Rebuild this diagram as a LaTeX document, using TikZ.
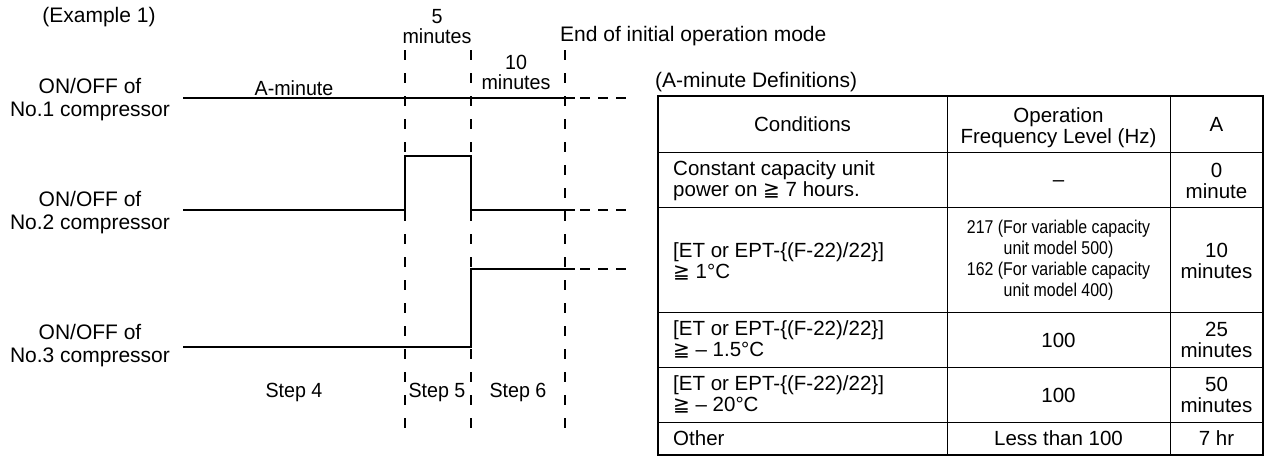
\documentclass[tikz,border=0pt]{standalone}
\usepackage{fontspec}
\setmainfont{Liberation Sans}
\newfontfamily\narrowfont{Liberation Sans}[FakeStretch=0.96]
\newfontfamily\condfont{Liberation Sans}[FakeStretch=0.86]
\newfontfamily\symfont{DejaVu Sans}
\newcommand{\gqq}{{\symfont\fontsize{20}{20}\selectfont ≧}}
\begin{document}
\begin{tikzpicture}[x=1pt,y=-1pt,
  lbl/.style={font=\fontsize{21}{23}\selectfont, align=center, inner sep=0pt},
  dlbl/.style={font=\narrowfont\fontsize{20.5}{20}\selectfont, align=center, inner sep=0pt},
  tbl/.style={font=\fontsize{20.5}{21}\selectfont, align=center, inner sep=0pt},
  tbll/.style={font=\fontsize{20.5}{21}\selectfont, align=left, anchor=west, inner sep=0pt},
  tbls/.style={font=\condfont\fontsize{18.5}{21}\selectfont, align=center, inner sep=0pt},
  sig/.style={line width=2pt},
  sigdash/.style={line width=2pt, dash pattern=on 10pt off 8pt},
  vdash/.style={line width=1.1pt, dash pattern=on 10pt off 13pt},
  grid/.style={line width=1pt},
  frame/.style={line width=1.8pt}]
\useasboundingbox (0,0) rectangle (1267,459);

% left labels
\node[lbl] (ex) at (99,17) {(Example 1)};
\node[lbl] (c1) at (90,99.5) {ON/OFF of\\No.1 compressor};
\node[lbl] (c2) at (90,212.5) {ON/OFF of\\No.2 compressor};
\node[lbl] (c3) at (90,346) {ON/OFF of\\No.3 compressor};

% time marks
\coordinate (ta) at (405,50);
\coordinate (tb) at (471,50);
\coordinate (tc) at (565,50);
\draw[vdash] (ta) -- (405,440);
\draw[vdash] (tb) -- (471,440);
\draw[vdash] (tc) -- (565,440);

% signals
\draw[sig] (183,98) -- (575,98);
\draw[sigdash] (580,98) -- (626,98);
\draw[sig] (183,210) -| (405,156) -| (471,210) -- (575,210);
\draw[sigdash] (580,210) -- (626,210);
\draw[sig] (183,347) -| (471,269) -- (575,269);
\draw[sigdash] (580,269) -- (626,269);

% timing labels
\node[dlbl] (five) at (437,27) {5\\minutes};
\node[dlbl] (ten) at (516,72) {10\\minutes};
\node[dlbl] (amin) at (294,88) {A-minute};
\node[lbl, anchor=west] (end) at (560,36) {End of initial operation mode};
\node[dlbl] (s4) at (294,392) {Step 4};
\node[dlbl] (s5) at (437,392) {Step 5};
\node[dlbl] (s6) at (518,392) {Step 6};

% table
\node[lbl, anchor=west] (tt) at (655,82) {(A-minute Definitions)};
\draw[frame] (658,96) rectangle (1263,455);
\draw[grid] (947,96) -- (947,455);
\draw[grid] (1170,96) -- (1170,455);
\foreach \yy in {152,207,312,367,422} \draw[grid] (658,\yy) -- (1263,\yy);

\node[tbl] (h1) at (802.5,124) {Conditions};
\node[tbl] (h2) at (1058.5,127.5) {Operation\\Frequency Level (Hz)};
\node[tbl] (h3) at (1216.5,124) {A};

\node[tbll] (r2a) at (673,181) {Constant capacity unit\\power on \gqq\ 7 hours.};
\node[tbl] (r2b) at (1058.5,184) {–};
\node[tbl] (r2c) at (1216.5,181) {0\\minute};

\node[tbll] (r3a) at (673,261) {[ET or EPT-\{(F-22)/22\}]\\\gqq\ 1°C};
\node[tbls] (r3b) at (1058.5,260) {217 (For variable capacity\\unit model 500)\\162 (For variable capacity\\unit model 400)};
\node[tbl] (r3c) at (1216.5,261) {10\\minutes};

\node[tbll] (r4a) at (673,339.5) {[ET or EPT-\{(F-22)/22\}]\\\gqq\ – 1.5°C};
\node[tbl] (r4b) at (1058.5,340) {100};
\node[tbl] (r4c) at (1216.5,339.5) {25\\minutes};

\node[tbll] (r5a) at (673,394.5) {[ET or EPT-\{(F-22)/22\}]\\\gqq\ – 20°C};
\node[tbl] (r5b) at (1058.5,395) {100};
\node[tbl] (r5c) at (1216.5,394.5) {50\\minutes};

\node[tbll] (r6a) at (673,438.5) {Other};
\node[tbl] (r6b) at (1058.5,438.5) {Less than 100};
\node[tbl] (r6c) at (1216.5,438.5) {7 hr};
\end{tikzpicture}
\end{document}
